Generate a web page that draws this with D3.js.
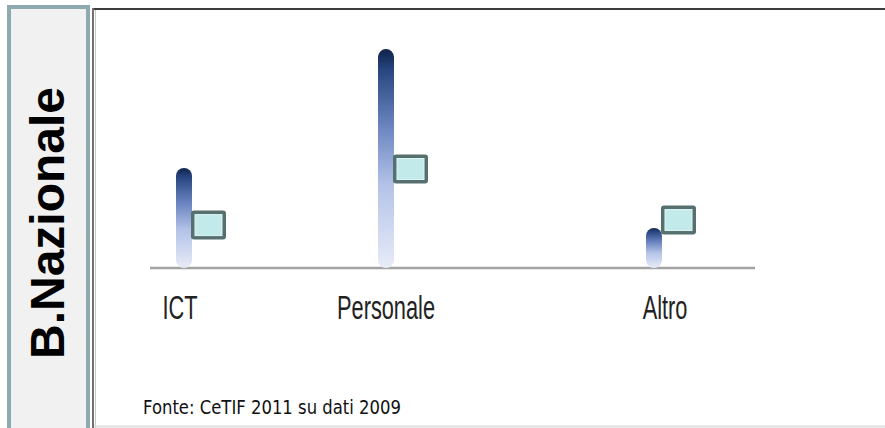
<!doctype html>
<html lang="it">
<head>
<meta charset="utf-8" />
<style>
  body { margin: 0; background: #fff; }
  svg text { font-family: "Liberation Sans", Arial, sans-serif; }
  .side-title { font-weight: bold; font-size: 48px; fill: #000; }
  .cat-label { font-size: 34px; fill: #222; }
  .source { font-family: "DejaVu Sans", Verdana, sans-serif !important; font-size: 19px; fill: #111; }
</style>
</head>
<body>
<div id="chart"></div>
<script src="https://d3js.org/d3.v7.min.js"></script>
<script>
  // data (0-100 relative scale, Personale bar = ~100)
  var categories = ["ICT", "Personale", "Altro"];
  var barValues = [45.5, 99.5, 18.2];
  var boxValues = [19.5, 45, 21.8];
  var title = "B.Nazionale";
  var sourceText = "Fonte: CeTIF 2011 su dati 2009";

  var width = 885, height = 428;

  var svg = d3.select("#chart").append("svg")
      .attr("width", width)
      .attr("height", height);

  var defs = svg.append("defs");
  var grad = defs.append("linearGradient")
      .attr("id", "barGrad")
      .attr("x1", 0).attr("y1", 0).attr("x2", 0).attr("y2", 1);
  grad.selectAll("stop")
    .data([["0%", "#10234a"], ["10%", "#2a4782"], ["35%", "#6a84c0"], ["62%", "#b3c2e7"], ["100%", "#e8ecf8"]])
    .enter().append("stop")
      .attr("offset", function(d) { return d[0]; })
      .attr("stop-color", function(d) { return d[1]; });

  var soft = defs.append("filter").attr("id", "soft");
  soft.append("feGaussianBlur").attr("stdDeviation", 0.7);

  var shadow = defs.append("filter").attr("id", "shadow")
      .attr("x", "-5%").attr("y", "-50%").attr("width", "110%").attr("height", "300%");
  shadow.append("feGaussianBlur").attr("stdDeviation", 1.2);

  // left side panel
  svg.append("rect")
      .attr("x", 9).attr("y", 7)
      .attr("width", 79).attr("height", 430)
      .attr("fill", "#f1f1f1")
      .attr("stroke", "#8eaaae")
      .attr("stroke-width", 4);

  svg.append("text")
      .attr("class", "side-title")
      .attr("text-anchor", "middle")
      .attr("transform", "translate(64,223) rotate(-90)")
      .text(title);

  // main frame
  var frame = svg.append("g");
  frame.append("line")
      .attr("x1", 94).attr("x2", width).attr("y1", 11).attr("y2", 11)
      .attr("stroke", "#999").attr("stroke-width", 3)
      .attr("filter", "url(#shadow)");
  frame.append("line")
      .attr("x1", 93).attr("x2", width).attr("y1", 9).attr("y2", 9)
      .attr("stroke", "#3c3c3c").attr("stroke-width", 2);
  frame.append("line")
      .attr("x1", 93).attr("x2", 93).attr("y1", 8).attr("y2", height)
      .attr("stroke", "#6f6f6f").attr("stroke-width", 2);
  frame.append("line")
      .attr("x1", 95.5).attr("x2", 95.5).attr("y1", 10).attr("y2", height)
      .attr("stroke", "#c8c8c8").attr("stroke-width", 1);
  frame.append("line")
      .attr("x1", 94).attr("x2", width).attr("y1", 426.5).attr("y2", 426.5)
      .attr("stroke", "#dedede").attr("stroke-width", 2);

  // scales
  var y = d3.scaleLinear().domain([0, 100]).range([268, 48]);
  var x = d3.scaleOrdinal().domain(categories).range([184, 386, 654]);
  var xLabel = d3.scaleOrdinal().domain(categories).range([180, 386, 665]);

  var barW = 16, boxW = 35, boxH = 29;

  var data = categories.map(function(c, i) {
    return { cat: c, bar: barValues[i], box: boxValues[i] };
  });

  // baseline
  svg.append("line")
      .attr("x1", 150).attr("x2", 755)
      .attr("y1", y(0)).attr("y2", y(0))
      .attr("stroke", "#a3a3a3")
      .attr("stroke-width", 2.5);

  var chart = svg.append("g");

  chart.selectAll("rect.bar")
    .data(data)
    .enter().append("rect")
      .attr("class", "bar")
      .attr("x", function(d) { return x(d.cat) - barW / 2; })
      .attr("y", function(d) { return y(d.bar); })
      .attr("width", barW)
      .attr("height", function(d) { return y(0) - y(d.bar); })
      .attr("rx", barW / 2)
      .attr("fill", "url(#barGrad)")
      .attr("filter", "url(#soft)");

  var boxes = chart.selectAll("g.box")
    .data(data)
    .enter().append("g")
      .attr("class", "box")
      .attr("transform", function(d) {
        return "translate(" + (x(d.cat) + 7) + "," + (y(d.box) - boxH / 2) + ")";
      });

  boxes.append("rect")
      .attr("width", boxW).attr("height", boxH)
      .attr("rx", 3)
      .attr("fill", "#56706f");
  boxes.append("rect")
      .attr("x", 4).attr("y", 4)
      .attr("width", boxW - 8).attr("height", boxH - 8)
      .attr("fill", "#c3eaea")
      .attr("stroke", "#dff5f5")
      .attr("stroke-width", 1);

  // category labels (narrow look)
  chart.selectAll("text.cat-label")
    .data(data)
    .enter().append("text")
      .attr("class", "cat-label")
      .attr("text-anchor", "middle")
      .attr("transform", function(d) { return "translate(" + xLabel(d.cat) + ",319) scale(0.64,1)"; })
      .text(function(d) { return d.cat; });

  svg.append("text")
      .attr("class", "source")
      .attr("x", 143)
      .attr("y", 414)
      .attr("textLength", 258)
      .attr("lengthAdjust", "spacingAndGlyphs")
      .text(sourceText);
</script>
</body>
</html>
